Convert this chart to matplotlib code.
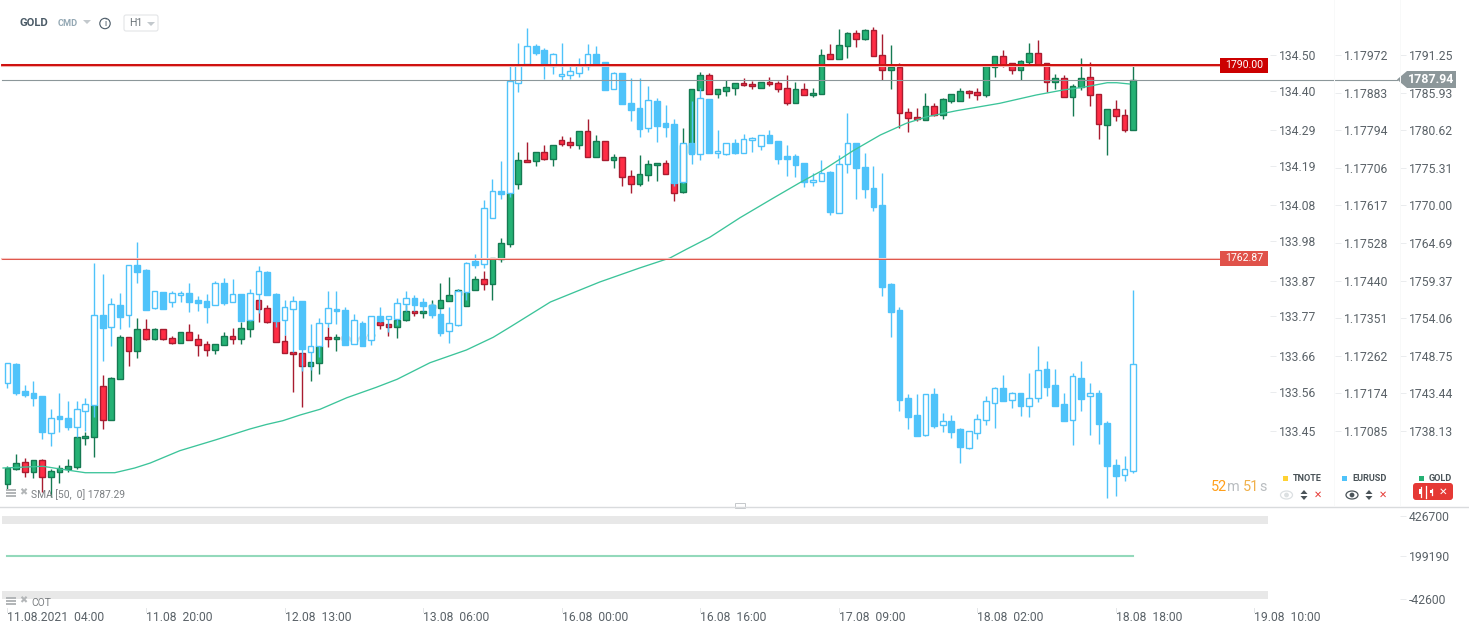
import matplotlib
matplotlib.use("Agg")
import matplotlib.pyplot as plt
import numpy as np
from matplotlib.patches import Circle, Ellipse, FancyBboxPatch, Polygon, Rectangle

plt.rcParams["font.family"] = ["Roboto", "DejaVu Sans"]

W, H = 1469, 635

GOLD_OPEN = [1731.30, 1733.48, 1734.38, 1732.98, 1734.66, 1732.28, 1732.98, 1733.40, 1733.68, 1737.74,
             1737.88, 1745.02, 1740.26, 1746.00, 1751.88, 1749.92, 1753.00, 1751.60, 1753.00, 1751.74,
             1751.04, 1752.58, 1751.60, 1750.90, 1750.06, 1750.76, 1752.02, 1751.60, 1753.00, 1757.06,
             1755.94, 1754.12, 1751.32, 1749.78, 1749.64, 1747.82, 1748.24, 1751.88, 1751.60, 1752.00,
             1751.40, 1752.00, 1752.00, 1753.98, 1753.70, 1753.28, 1754.26, 1755.52, 1755.24, 1755.98,
             1755.94, 1756.92, 1757.80, 1756.22, 1758.46, 1760.00, 1759.30, 1762.80, 1764.90, 1773.30,
             1776.66, 1776.52, 1777.78, 1776.80, 1779.46, 1779.18, 1778.76, 1780.72, 1777.08, 1779.32,
             1776.66, 1777.08, 1774.42, 1773.30, 1774.56, 1775.96, 1776.24, 1773.48, 1772.18, 1777.68,
             1786.46, 1788.56, 1785.90, 1786.40, 1786.74, 1787.44, 1787.30, 1786.74, 1787.58, 1787.44,
             1786.74, 1784.64, 1786.60, 1785.76, 1785.90, 1791.50, 1790.80, 1792.62, 1794.44, 1793.60,
             1794.86, 1791.36, 1789.26, 1789.68, 1783.38, 1782.68, 1782.26, 1784.22, 1782.96, 1784.92,
             1784.92, 1786.32, 1786.18, 1785.76, 1789.68, 1791.22, 1790.24, 1789.26, 1790.38, 1791.64,
             1790.24, 1787.58, 1788.14, 1785.48, 1786.88, 1788.28, 1785.90, 1781.56, 1783.80, 1782.96,
             1780.86]
GOLD_CLOSE = [1733.54, 1734.24, 1732.98, 1734.66, 1732.28, 1733.12, 1733.54, 1733.82, 1737.88, 1738.02,
              1742.44, 1740.26, 1746.14, 1751.88, 1749.92, 1753.00, 1751.60, 1753.00, 1751.60, 1751.04,
              1752.58, 1751.46, 1750.76, 1750.06, 1750.90, 1752.02, 1751.60, 1753.14, 1754.26, 1755.80,
              1753.98, 1751.18, 1749.64, 1749.50, 1747.82, 1748.38, 1750.62, 1751.60, 1751.88, 1751.50,
              1751.90, 1751.60, 1752.40, 1753.56, 1753.28, 1754.26, 1755.52, 1755.24, 1755.52, 1756.40,
              1757.06, 1757.76, 1758.50, 1758.18, 1760.00, 1759.30, 1762.94, 1765.04, 1772.08, 1776.66,
              1776.38, 1777.78, 1776.80, 1778.76, 1778.90, 1778.76, 1780.72, 1777.08, 1779.32, 1776.66,
              1777.08, 1774.28, 1773.30, 1774.70, 1776.10, 1776.24, 1774.70, 1772.04, 1778.80, 1786.60,
              1788.56, 1785.90, 1786.60, 1786.88, 1787.44, 1787.16, 1787.02, 1787.58, 1787.30, 1786.60,
              1784.64, 1786.60, 1785.76, 1786.04, 1791.36, 1790.80, 1792.76, 1794.44, 1793.60, 1794.86,
              1791.22, 1789.26, 1789.68, 1783.24, 1782.54, 1782.40, 1784.22, 1782.96, 1785.20, 1785.90,
              1786.32, 1786.04, 1785.76, 1789.82, 1791.22, 1789.96, 1789.26, 1790.52, 1791.64, 1789.96,
              1787.58, 1788.14, 1785.48, 1787.02, 1788.14, 1785.76, 1781.70, 1783.80, 1782.82, 1780.86,
              1787.94]
GOLD_HIGH = [1733.86, 1735.54, 1734.94, 1734.70, 1734.80, 1733.44, 1734.00, 1734.84, 1737.92, 1738.62,
             1742.54, 1746.60, 1746.32, 1752.20, 1751.92, 1754.54, 1754.40, 1753.14, 1753.05, 1752.02,
             1752.62, 1753.70, 1752.30, 1751.32, 1750.92, 1752.58, 1753.14, 1753.98, 1754.30, 1757.10,
             1756.36, 1754.16, 1752.16, 1749.82, 1749.68, 1748.42, 1750.66, 1753.28, 1752.30, 1752.30,
             1752.20, 1752.30, 1752.70, 1754.02, 1753.74, 1754.30, 1756.36, 1755.56, 1755.56, 1757.10,
             1759.48, 1760.32, 1758.60, 1758.22, 1760.42, 1761.12, 1763.00, 1765.74, 1772.10, 1777.82,
             1779.22, 1777.82, 1778.76, 1778.80, 1780.02, 1779.88, 1780.76, 1782.40, 1780.16, 1779.36,
             1777.50, 1777.12, 1775.26, 1777.36, 1776.66, 1776.28, 1776.66, 1773.50, 1781.14, 1786.64,
             1788.98, 1788.84, 1786.64, 1787.86, 1787.48, 1788.14, 1787.72, 1787.62, 1788.28, 1787.72,
             1788.56, 1787.58, 1787.44, 1786.74, 1792.20, 1792.90, 1795.00, 1794.58, 1794.86, 1795.00,
             1795.28, 1794.30, 1792.76, 1790.24, 1783.94, 1783.94, 1786.04, 1784.64, 1785.34, 1785.92,
             1786.74, 1786.46, 1786.74, 1789.86, 1791.26, 1792.10, 1790.28, 1790.66, 1793.04, 1793.50,
             1790.28, 1788.70, 1788.56, 1787.30, 1790.94, 1790.38, 1785.92, 1783.84, 1785.06, 1783.80,
             1790.10]
GOLD_LOW = [1730.50, 1733.30, 1732.36, 1732.22, 1730.26, 1729.52, 1731.44, 1732.98, 1733.48, 1736.84,
            1735.16, 1739.08, 1740.23, 1745.97, 1747.90, 1749.02, 1751.46, 1751.46, 1751.55, 1750.90,
            1751.02, 1751.44, 1749.22, 1749.22, 1749.50, 1750.74, 1750.94, 1750.90, 1751.96, 1753.98,
            1753.84, 1751.16, 1749.62, 1744.26, 1742.08, 1745.80, 1746.70, 1750.56, 1749.92, 1751.20,
            1751.10, 1751.30, 1751.80, 1753.04, 1752.02, 1751.74, 1754.12, 1754.86, 1754.58, 1755.70,
            1755.80, 1756.90, 1757.70, 1756.20, 1758.44, 1758.46, 1757.10, 1762.46, 1764.56, 1772.64,
            1776.36, 1775.90, 1776.66, 1775.90, 1778.62, 1778.34, 1778.20, 1777.06, 1777.06, 1776.64,
            1775.62, 1773.02, 1772.04, 1773.02, 1773.72, 1773.72, 1774.68, 1770.92, 1772.08, 1777.60,
            1786.44, 1785.88, 1785.34, 1785.70, 1785.84, 1787.02, 1786.60, 1786.72, 1787.02, 1786.18,
            1784.36, 1784.62, 1785.74, 1785.48, 1785.88, 1790.78, 1790.78, 1790.94, 1792.48, 1793.46,
            1791.20, 1787.86, 1786.68, 1781.14, 1780.58, 1782.12, 1782.24, 1782.82, 1782.40, 1784.64,
            1784.90, 1785.34, 1785.06, 1785.48, 1788.28, 1789.68, 1788.70, 1787.86, 1790.10, 1789.94,
            1786.18, 1786.60, 1785.46, 1782.86, 1786.46, 1784.30, 1779.60, 1777.36, 1782.12, 1780.58,
            1780.84]

EUR_OPEN = [1.17182, 1.17226, 1.17161, 1.17156, 1.17149, 1.17062, 1.17101, 1.17096, 1.17076, 1.17113,
            1.17129, 1.17343, 1.17315, 1.17367, 1.17343, 1.17463, 1.17451, 1.17360, 1.17399, 1.17375,
            1.17391, 1.17396, 1.17379, 1.17377, 1.17367, 1.17422, 1.17375, 1.17394, 1.17331, 1.17394,
            1.17447, 1.17394, 1.17331, 1.17358, 1.17377, 1.17255, 1.17269, 1.17324, 1.17358, 1.17355,
            1.17274, 1.17326, 1.17283, 1.17341, 1.17334, 1.17334, 1.17370, 1.17386, 1.17375, 1.17367,
            1.17346, 1.17305, 1.17321, 1.17399, 1.17473, 1.17466, 1.17576, 1.17641, 1.17638, 1.17902,
            1.17946, 1.17989, 1.17979, 1.17941, 1.17917, 1.17919, 1.17926, 1.17941, 1.17970, 1.17951,
            1.17886, 1.17924, 1.17854, 1.17840, 1.17792, 1.17857, 1.17804, 1.17802, 1.17663, 1.17756,
            1.17730, 1.17862, 1.17732, 1.17731, 1.17756, 1.17734, 1.17763, 1.17749, 1.17775, 1.17761,
            1.17725, 1.17725, 1.17708, 1.17663, 1.17665, 1.17687, 1.17590, 1.17706, 1.17756, 1.17699,
            1.17648, 1.17607, 1.17418, 1.17355, 1.17144, 1.17103, 1.17055, 1.17154, 1.17079, 1.17089,
            1.17070, 1.17026, 1.17062, 1.17091, 1.17134, 1.17170, 1.17139, 1.17156, 1.17125, 1.17144,
            1.17214, 1.17175, 1.17130, 1.17091, 1.17194, 1.17149, 1.17158, 1.17084, 1.16983, 1.16959,
            1.16969]
EUR_CLOSE = [1.17228, 1.17158, 1.17153, 1.17146, 1.17064, 1.17098, 1.17094, 1.17076, 1.17118, 1.17130,
             1.17343, 1.17314, 1.17370, 1.17340, 1.17463, 1.17448, 1.17357, 1.17401, 1.17359, 1.17396,
             1.17396, 1.17376, 1.17374, 1.17364, 1.17422, 1.17374, 1.17394, 1.17330, 1.17396, 1.17449,
             1.17391, 1.17329, 1.17363, 1.17377, 1.17263, 1.17270, 1.17326, 1.17360, 1.17353, 1.17273,
             1.17331, 1.17270, 1.17341, 1.17330, 1.17341, 1.17372, 1.17386, 1.17369, 1.17366, 1.17345,
             1.17302, 1.17324, 1.17401, 1.17470, 1.17463, 1.17602, 1.17641, 1.17635, 1.17905, 1.17943,
             1.17989, 1.17974, 1.17946, 1.17970, 1.17922, 1.17929, 1.17943, 1.17970, 1.17946, 1.17885,
             1.17926, 1.17851, 1.17837, 1.17791, 1.17859, 1.17798, 1.17796, 1.17660, 1.17756, 1.17731,
             1.17864, 1.17734, 1.17737, 1.17756, 1.17734, 1.17766, 1.17768, 1.17775, 1.17758, 1.17719,
             1.17719, 1.17705, 1.17663, 1.17667, 1.17684, 1.17592, 1.17706, 1.17756, 1.17696, 1.17647,
             1.17604, 1.17412, 1.17352, 1.17141, 1.17100, 1.17054, 1.17154, 1.17078, 1.17089, 1.17064,
             1.17028, 1.17065, 1.17094, 1.17137, 1.17170, 1.17138, 1.17158, 1.17126, 1.17144, 1.17211,
             1.17172, 1.17126, 1.17090, 1.17197, 1.17143, 1.17158, 1.17083, 1.16982, 1.16958, 1.16974,
             1.17226]
EUR_HIGH = [1.17229, 1.17228, 1.17175, 1.17185, 1.17150, 1.17118, 1.17156, 1.17137, 1.17137, 1.17146,
            1.17470, 1.17442, 1.17384, 1.17396, 1.17464, 1.17519, 1.17454, 1.17402, 1.17399, 1.17401,
            1.17401, 1.17422, 1.17390, 1.17394, 1.17425, 1.17434, 1.17430, 1.17394, 1.17406, 1.17461,
            1.17449, 1.17396, 1.17380, 1.17389, 1.17378, 1.17322, 1.17336, 1.17401, 1.17401, 1.17363,
            1.17346, 1.17329, 1.17342, 1.17363, 1.17342, 1.17384, 1.17401, 1.17391, 1.17386, 1.17372,
            1.17358, 1.17363, 1.17406, 1.17471, 1.17490, 1.17620, 1.17670, 1.17713, 1.17942, 1.17996,
            1.18034, 1.17994, 1.17986, 1.17974, 1.17996, 1.17941, 1.17960, 1.17994, 1.17989, 1.17952,
            1.17927, 1.17925, 1.17914, 1.17914, 1.17893, 1.17864, 1.17847, 1.17814, 1.17757, 1.17857,
            1.17890, 1.17862, 1.17787, 1.17757, 1.17766, 1.17778, 1.17771, 1.17776, 1.17787, 1.17762,
            1.17751, 1.17730, 1.17709, 1.17684, 1.17715, 1.17689, 1.17727, 1.17828, 1.17758, 1.17734,
            1.17702, 1.17684, 1.17422, 1.17363, 1.17154, 1.17154, 1.17155, 1.17168, 1.17108, 1.17103,
            1.17074, 1.17066, 1.17106, 1.17149, 1.17171, 1.17199, 1.17159, 1.17157, 1.17204, 1.17269,
            1.17233, 1.17214, 1.17158, 1.17206, 1.17233, 1.17182, 1.17163, 1.17089, 1.16998, 1.17005,
            1.17403]
EUR_LOW = [1.17170, 1.17153, 1.17148, 1.17126, 1.17047, 1.17030, 1.17064, 1.17068, 1.17052, 1.17065,
           1.17100, 1.17234, 1.17269, 1.17310, 1.17316, 1.17422, 1.17357, 1.17358, 1.17359, 1.17364,
           1.17375, 1.17352, 1.17354, 1.17324, 1.17367, 1.17369, 1.17375, 1.17330, 1.17330, 1.17350,
           1.17391, 1.17315, 1.17295, 1.17255, 1.17210, 1.17212, 1.17244, 1.17316, 1.17322, 1.17273,
           1.17274, 1.17270, 1.17272, 1.17327, 1.17304, 1.17320, 1.17354, 1.17354, 1.17354, 1.17337,
           1.17294, 1.17277, 1.17318, 1.17380, 1.17457, 1.17457, 1.17576, 1.17622, 1.17628, 1.17880,
           1.17946, 1.17967, 1.17910, 1.17922, 1.17907, 1.17910, 1.17916, 1.17932, 1.17946, 1.17885,
           1.17886, 1.17851, 1.17810, 1.17772, 1.17784, 1.17760, 1.17772, 1.17654, 1.17661, 1.17707,
           1.17715, 1.17734, 1.17722, 1.17729, 1.17731, 1.17734, 1.17735, 1.17739, 1.17758, 1.17707,
           1.17678, 1.17676, 1.17652, 1.17654, 1.17665, 1.17585, 1.17588, 1.17686, 1.17623, 1.17626,
           1.17594, 1.17390, 1.17292, 1.17114, 1.17071, 1.17054, 1.17054, 1.17074, 1.17064, 1.17050,
           1.16990, 1.17022, 1.17047, 1.17081, 1.17074, 1.17138, 1.17122, 1.17102, 1.17100, 1.17136,
           1.17150, 1.17126, 1.17090, 1.17031, 1.17114, 1.17057, 1.17035, 1.16906, 1.16910, 1.16946,
           1.16964]

SMA_POS = [-0.5, 4.1, 6.1, 9, 12.4, 14.7, 16.5, 19.9, 24, 28, 29.9, 31.8, 33.8, 36.1, 39.2, 42.6, 45, 48.8,
           53, 56.1, 58, 62.7, 68.4, 73, 76.5, 78.4, 81.1, 84.6, 88.4, 91.5, 94.2, 97.6, 100.8, 103.8, 106.2,
           109.6, 114.6, 118.8, 121.9, 124.6, 127, 128.1, 129.6]
SMA_VALUE = [1733.58, 1733.82, 1733.44, 1732.92, 1732.92, 1733.58, 1734.28, 1736.00, 1737.50, 1739.04,
             1739.67, 1740.20, 1741.00, 1741.80, 1743.42, 1744.88, 1746.00, 1748.32, 1750.10, 1751.88,
             1753.28, 1756.82, 1759.62, 1761.58, 1762.98, 1764.20, 1765.88, 1768.62, 1771.34, 1773.52,
             1775.30, 1777.96, 1780.20, 1781.84, 1782.76, 1783.60, 1784.64, 1785.80, 1786.50, 1786.96,
             1787.52, 1787.52, 1787.34]

LEVEL_HIGH = 1790.00
LEVEL_LOW = 1762.87
LAST_PRICE = 1787.94

TNOTE_TICKS = ["134.50", "134.40", "134.29", "134.19", "134.08", "133.98", "133.87", "133.77", "133.66", "133.56", "133.45"]
EUR_TICKS = ["1.17972", "1.17883", "1.17794", "1.17706", "1.17617", "1.17528", "1.17440", "1.17351", "1.17262", "1.17174", "1.17085"]
GOLD_TICKS = ["1791.25", "1785.93", "1780.62", "1775.31", "1770.00", "1764.69", "1759.37", "1754.06", "1748.75", "1743.44", "1738.13"]
COT_TICKS = ["426700", "199190", "-42600"]
COT_POS = [0, 130]
COT_VALUE = [199190, 199190]

DATE_POS = [0, 16, 32, 48, 64, 80, 96, 112, 128, 144]
DATE_LABELS = ["11.08.2021  04:00", "11.08  20:00", "12.08  13:00", "13.08  06:00", "16.08  00:00",
               "16.08  16:00", "17.08  09:00", "18.08  02:00", "18.08  18:00", "19.08  10:00"]

BLUE = "#4FC3FA"
GREEN, GREEN_DARK = "#25B174", "#157A52"
RED, RED_DARK = "#FF2D45", "#A81C30"
SMA_GREEN = "#3CC49A"
TICK_GREY = "#5A6268"


def column_axis(parent, labels, y_first, y_last, x_pix):
    # cada coluna de preços tem a própria escala
    vals = [float(s) for s in labels]
    per_px = (vals[0] - vals[-1]) / (y_last - y_first)
    tw = parent.twinx()
    tw.set_ylim(vals[0] - (H - y_first) * per_px, vals[0] + y_first * per_px)
    tw.set_yticks(vals, labels)
    tw.tick_params(axis="y", length=0, pad=-(W - x_pix) * 0.72, labelsize=8.7, labelcolor=TICK_GREY)
    for s in tw.spines.values():
        s.set_visible(False)
    tw.patch.set_visible(False)
    tw.hlines(vals, (x_pix - 9) / W, (x_pix - 3) / W, color="#EAECEE", lw=0.7, transform=tw.get_yaxis_transform())
    return tw


def candles(ax, op, hi, lo, cl, up_fill, down_fill, up_edge, down_edge, width=0.66):
    op, hi, lo, cl = map(np.array, (op, hi, lo, cl))
    x = np.arange(len(op))
    up = cl >= op
    ax.vlines(x, lo, hi, colors=np.where(up, up_edge, down_edge), lw=1.0, zorder=2)
    ax.bar(x, np.abs(cl - op), bottom=np.minimum(op, cl), width=width,
           color=np.where(up, up_fill, down_fill), edgecolor=np.where(up, up_edge, down_edge),
           linewidth=1.0, zorder=3)


fig = plt.figure(figsize=(W / 100, H / 100), dpi=100)
ax = fig.add_axes([0, 0, 1, 1])
xlim = ((0 - 7.4) / 8.66, (W - 7.4) / 8.66)
ax.set_xlim(*xlim)
ax.set_ylim(1799.1 - 0.14 * H, 1799.1)
for s in ax.spines.values():
    s.set_visible(False)
ax.set_yticks([])
ax.set_xticks(DATE_POS, DATE_LABELS, ha="left")
ax.tick_params(axis="x", length=0, pad=-17.5, labelsize=8.7, labelcolor=TICK_GREY)
candles(ax, GOLD_OPEN, GOLD_HIGH, GOLD_LOW, GOLD_CLOSE, GREEN, RED, GREEN_DARK, RED_DARK)

# EURUSD por cima do ouro
ax_eur = ax.twinx()
ax_eur.set_ylim(1.181 - 0.000024 * H, 1.181)
ax_eur.set_yticks([])
ax_eur.patch.set_visible(False)
for s in ax_eur.spines.values():
    s.set_visible(False)
candles(ax_eur, EUR_OPEN, EUR_HIGH, EUR_LOW, EUR_CLOSE, "white", BLUE, BLUE, BLUE)

ax_top = ax.twinx()
ax_top.set_ylim(ax.get_ylim())
ax_top.set_yticks([])
ax_top.patch.set_visible(False)
for s in ax_top.spines.values():
    s.set_visible(False)
ax_top.plot(SMA_POS, SMA_VALUE, color=SMA_GREEN, lw=0.95, zorder=4)
tr = ax_top.get_yaxis_transform()
ax_top.plot([2 / W, 1397 / W], [LAST_PRICE] * 2, color="#8C979A", lw=0.8, transform=tr, zorder=4)
ax_top.plot([2 / W, 1220 / W], [LEVEL_HIGH] * 2, color="#F3B0AC", lw=2.2, transform=tr, zorder=5)
ax_top.plot([2 / W, 1220 / W], [LEVEL_HIGH] * 2, color="#CC0000", lw=1.3, transform=tr, zorder=5)
ax_top.plot([2 / W, 1220 / W], [LEVEL_LOW] * 2, color="#F6C4C0", lw=1.5, transform=tr, zorder=4)
ax_top.plot([2 / W, 1220 / W], [LEVEL_LOW] * 2, color="#DB4437", lw=0.6, transform=tr, zorder=5)

column_axis(ax_top, TNOTE_TICKS, 55, 431, 1279)
column_axis(ax_top, EUR_TICKS, 55, 431, 1344)
column_axis(ax_top, GOLD_TICKS, 55, 431, 1409)
ax_cot = column_axis(ax_top, COT_TICKS, 516, 599, 1409)
ax_cot.plot(COT_POS, COT_VALUE, color="#93D9BB", lw=1.5)

# cromo da plataforma, em pixels
ch = fig.add_axes([0, 0, 1, 1])
ch.set_xlim(0, W)
ch.set_ylim(H, 0)
ch.axis("off")
ch.patch.set_visible(False)

ch.plot([0, W], [506.7, 506.7], color="#D9DBDD", lw=1)
ch.add_patch(Rectangle((2, 516), 1266, 8, color="#E8E8E8", lw=0))
ch.add_patch(Rectangle((2, 591), 1266, 8, color="#E8E8E8", lw=0))
for xs in (1334, 1400.5):
    ch.plot([xs, xs], [0, 505], color="#F8F9F9", lw=0.7)
for xs in np.array(DATE_POS) * 8.66 + 7.4:
    ch.plot([xs, xs], [608, 612], color="#E4E6E8", lw=0.7)
ch.add_patch(Rectangle((735, 503), 10, 5, fc="white", ec="#C5C8CB", lw=0.7))

# etiquetas de preço
ch.add_patch(Rectangle((1220, 58), 48, 15, color="#CC0000", lw=0))
ch.text(1244, 65.5, f"{LEVEL_HIGH:.2f}", color="white", fontsize=7.6, ha="center", va="center")
ch.add_patch(Rectangle((1220, 250.5), 48, 15, color="#E0524A", lw=0))
ch.text(1244, 258, f"{LEVEL_LOW:.2f}", color="white", fontsize=7.6, ha="center", va="center")
ch.add_patch(Polygon([(1397, 79.5), (1407, 71), (1456, 71), (1456, 88), (1407, 88)], color="#8C979A", lw=0))
ch.text(1431.5, 79.5, f"{LAST_PRICE:.2f}", color="white", fontsize=8.9, fontweight="bold", ha="center", va="center")

# cabeçalho
ch.text(20, 23, "GOLD", color="#4A5A66", fontsize=8.1, fontweight="bold", va="center")
ch.text(58, 24, "CMD", color="#94A8B4", fontsize=6.6, fontweight="bold", va="center")
ch.add_patch(Polygon([(83, 20), (91, 20), (87, 24)], color="#C3C9CD", lw=0))
ch.add_patch(Circle((105, 23.5), 5.2, fc="white", ec="#4A5A66", lw=0.8))
ch.text(105, 23.7, "i", color="#4A5A66", fontsize=6.5, ha="center", va="center")
ch.add_patch(FancyBboxPatch((124, 15), 34, 16, boxstyle="round,pad=0,rounding_size=2", fc="white", ec="#E3E5E7", lw=0.8))
ch.text(129, 23.5, "H1", color="#6C7479", fontsize=7.6, va="center")
ch.add_patch(Polygon([(147, 22), (155, 22), (151, 26)], color="#C3C9CD", lw=0))

# indicadores à esquerda
for y_ic, name, x_txt in ((489, "SMA [50,  0] 1787.29", 31), (597, "COT", 31)):
    for k in range(3):
        ch.add_patch(Rectangle((6, y_ic + k * 3), 10, 2, color="#B3B6B8", lw=0))
    ch.text(23.5, y_ic + 3.5, "✖", color="#B3B6B8", fontsize=7, ha="center", va="center", family="DejaVu Sans")
    ch.text(x_txt, y_ic + 6, name, color="#7B7F82", fontsize=7.4, va="center")

# contador
xt = 1211
for s, col in (("52", "#FF9F1A"), ("m ", "#B9BDC0"), ("51", "#F0B04A"), ("s", "#B9BDC0")):
    t = ch.text(xt, 487, s, color=col, fontsize=10.4, va="center")
    xt = t.get_window_extent(fig.canvas.get_renderer()).x1

# legenda das séries
for xs, col, name in ((1283, "#FFD233", "TNOTE"), (1342, BLUE, "EURUSD"), (1419, GREEN, "GOLD")):
    ch.add_patch(Rectangle((xs, 475.5), 5.5, 5.5, color=col, lw=0))
    ch.text(xs + 10, 478.2, name, color="#4A5358", fontsize=6.6, fontweight="bold", va="center")


def eye(x, y, col):
    ch.add_patch(Ellipse((x, y), 12, 8, fc="white", ec=col, lw=0.9))
    ch.add_patch(Circle((x, y), 2.4, color=col, lw=0))


def arrows(x, y):
    ch.add_patch(Polygon([(x - 3.5, y - 1), (x + 3.5, y - 1), (x, y - 5)], color="#4A5358", lw=0))
    ch.add_patch(Polygon([(x - 3.5, y + 1), (x + 3.5, y + 1), (x, y + 5)], color="#4A5358", lw=0))


eye(1286.5, 495, "#DCE0E2")
arrows(1304, 495)
ch.text(1317.5, 495, "✕", color="#E53935", fontsize=7, fontweight="bold", ha="center", va="center", family="DejaVu Sans")
eye(1352, 495, "#4A5358")
arrows(1369, 495)
ch.text(1382.5, 495, "✕", color="#E53935", fontsize=7, fontweight="bold", ha="center", va="center", family="DejaVu Sans")
ch.add_patch(FancyBboxPatch((1413, 483), 40, 17, boxstyle="round,pad=0,rounding_size=3", color="#E53935", lw=0))
for xs, yb, yt in ((1421, 487, 497), (1426, 486, 498), (1432, 489, 495)):
    ch.plot([xs, xs], [yb, yt], color="white", lw=0.9)
ch.add_patch(Rectangle((1419.5, 489), 3, 5, color="white", lw=0))
ch.add_patch(Rectangle((1430.5, 490), 3, 3, color="white", lw=0))
ch.text(1443.5, 491.5, "✕", color="white", fontsize=7.5, fontweight="bold", ha="center", va="center", family="DejaVu Sans")

fig.savefig("out.png", dpi=100)
